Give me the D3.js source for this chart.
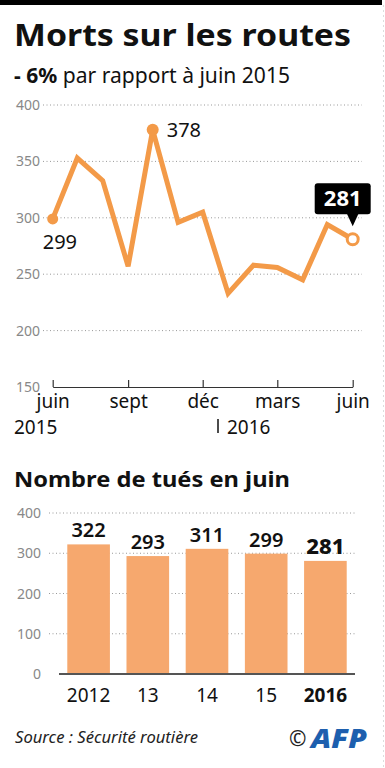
<!DOCTYPE html>
<html>
<head>
<meta charset="utf-8">
<script src="https://cdn.jsdelivr.net/npm/d3@7"></script>
<style>
  body { margin: 0; background: #fff; }
  svg { display: block; font-family: "Noto Sans", sans-serif; }
</style>
</head>
<body>
<div id="chart"></div>
<script>
// monthly road deaths, juin 2015 -> juin 2016
var months = ["2015-06", "2015-07", "2015-08", "2015-09", "2015-10", "2015-11", "2015-12",
              "2016-01", "2016-02", "2016-03", "2016-04", "2016-05", "2016-06"];
var deaths = [299, 353, 333, 257, 378, 296, 305, 233, 258, 256, 245, 294, 281];
var lineTicks = [150, 200, 250, 300, 350, 400];
var monthLabels = ["juin", "sept", "déc", "mars", "juin"];

// june totals per year
var years = ["2012", "13", "14", "15", "2016"];
var juneDeaths = [322, 293, 311, 299, 281];
var barTicks = [0, 100, 200, 300, 400];

var orange = "#f39a48";
var barOrange = "#f6a86e";

var svgWidth = 385, svgHeight = 768;

var svg = d3.select("#chart").append("svg")
    .attr("width", svgWidth)
    .attr("height", svgHeight);

// top black band
svg.append("rect").attr("x", 0).attr("y", 0).attr("width", 382).attr("height", 5).attr("fill", "#000");
// faint right border
svg.append("line").attr("x1", 383.5).attr("x2", 383.5).attr("y1", 5).attr("y2", 768)
    .attr("stroke", "#ddd").attr("stroke-dasharray", "2,3");

// titles
svg.append("text").attr("x", 14).attr("y", 46)
    .attr("font-size", 31).attr("font-weight", 700).attr("fill", "#111")
    .attr("textLength", 337).attr("lengthAdjust", "spacingAndGlyphs")
    .text("Morts sur les routes");

var sub = svg.append("text").attr("x", 14).attr("y", 83).attr("font-size", 21).attr("fill", "#111")
    .attr("textLength", 276).attr("lengthAdjust", "spacingAndGlyphs");
sub.append("tspan").attr("font-weight", 700).text("- 6%");
sub.append("tspan").text(" par rapport à juin 2015");

// ---- line chart ----
var parse = d3.timeParse("%Y-%m");
var lineData = months.map(function(m, i) { return {date: parse(m), value: deaths[i]}; });

var xScale = d3.scaleTime()
    .domain([parse("2015-06"), parse("2016-06")])
    .range([52.7, 352.7]);

var yScale = d3.scaleLinear()
    .domain([150, 400])
    .range([387, 105]);

// grid
var grid = svg.append("g");
grid.selectAll("line").data(lineTicks.filter(function(d) { return d > 150; })).enter().append("line")
    .attr("x1", 43).attr("x2", 362)
    .attr("y1", function(d) { return yScale(d); })
    .attr("y2", function(d) { return yScale(d); })
    .attr("stroke", "#999").attr("stroke-width", 1).attr("stroke-dasharray", "1,2.5");

// y labels
svg.append("g").selectAll("text").data(lineTicks).enter().append("text")
    .attr("x", 40)
    .attr("y", function(d) { return yScale(d) + 5; })
    .attr("text-anchor", "end")
    .attr("font-size", 14).attr("fill", "#888")
    .text(function(d) { return d; });

// x axis
var tickDates = [parse("2015-06"), parse("2015-09"), parse("2015-12"), parse("2016-03"), parse("2016-06")];
var xAxis = d3.axisBottom(xScale)
    .tickValues(tickDates)
    .tickSizeInner(-7)
    .tickSizeOuter(0)
    .tickFormat(function(d, i) { return monthLabels[i]; });

var xg = svg.append("g")
    .attr("transform", "translate(0, 387)")
    .call(xAxis);
xg.select(".domain").attr("stroke", "#333").attr("stroke-width", 1.2);
xg.selectAll(".tick line").attr("stroke", "#333").attr("stroke-width", 1.2);
xg.selectAll(".tick text").attr("font-size", 19).attr("fill", "#111").attr("y", 8)
    .attr("font-family", "Noto Sans");

svg.append("text").attr("x", 14).attr("y", 434).attr("font-size", 19).attr("fill", "#111").text("2015");
svg.append("line").attr("x1", 218).attr("x2", 218).attr("y1", 419).attr("y2", 433)
    .attr("stroke", "#111").attr("stroke-width", 1.5);
svg.append("text").attr("x", 227).attr("y", 434).attr("font-size", 19).attr("fill", "#111").text("2016");

// line
var line = d3.line()
    .x(function(d) { return xScale(d.date); })
    .y(function(d) { return yScale(d.value); });

svg.append("path").datum(lineData)
    .attr("d", line)
    .attr("fill", "none")
    .attr("stroke", orange)
    .attr("stroke-width", 5)
    .attr("stroke-linejoin", "miter");

var first = lineData[0], peak = lineData[4], last = lineData[12];

svg.append("circle").attr("cx", xScale(first.date)).attr("cy", yScale(first.value)).attr("r", 5.5).attr("fill", orange);
svg.append("circle").attr("cx", xScale(peak.date)).attr("cy", yScale(peak.value)).attr("r", 6).attr("fill", orange);
svg.append("circle").attr("cx", xScale(last.date)).attr("cy", yScale(last.value)).attr("r", 5.5)
    .attr("fill", "#fff").attr("stroke", orange).attr("stroke-width", 3);

svg.append("text").attr("x", xScale(first.date) - 10).attr("y", yScale(first.value) + 30)
    .attr("font-size", 20).attr("fill", "#111").text(first.value);
svg.append("text").attr("x", xScale(peak.date) + 14).attr("y", yScale(peak.value) + 7)
    .attr("font-size", 20).attr("fill", "#111").text(peak.value);

// callout for last value
var lx = xScale(last.date), ly = yScale(last.value);
var callout = svg.append("g");
callout.append("rect")
    .attr("x", lx - 38).attr("y", ly - 56)
    .attr("width", 56).attr("height", 31).attr("rx", 3)
    .attr("fill", "#000");
callout.append("path")
    .attr("d", "M" + (lx - 6) + "," + (ly - 26) + " L" + lx + "," + (ly - 13) + " L" + (lx + 6) + "," + (ly - 26) + "Z")
    .attr("fill", "#000");
callout.append("text")
    .attr("x", lx - 10).attr("y", ly - 33)
    .attr("text-anchor", "middle")
    .attr("font-size", 22).attr("font-weight", 700).attr("fill", "#fff")
    .text(last.value);

// ---- bar chart ----
svg.append("text").attr("x", 14).attr("y", 487)
    .attr("font-size", 21).attr("font-weight", 700).attr("fill", "#111")
    .attr("textLength", 276).attr("lengthAdjust", "spacingAndGlyphs")
    .text("Nombre de tués en juin");

var bx = d3.scaleBand()
    .domain(years)
    .range([59, 355])
    .paddingInner(0.28)
    .paddingOuter(0.14);

var by = d3.scaleLinear()
    .domain([0, 400])
    .range([674, 513]);

svg.append("g").selectAll("line").data(barTicks.filter(function(d) { return d > 0; })).enter().append("line")
    .attr("x1", 49).attr("x2", 355)
    .attr("y1", function(d) { return by(d); })
    .attr("y2", function(d) { return by(d); })
    .attr("stroke", "#999").attr("stroke-width", 1).attr("stroke-dasharray", "1,2.5");

svg.append("g").selectAll("text").data(barTicks).enter().append("text")
    .attr("x", 41)
    .attr("y", function(d) { return by(d) + 5; })
    .attr("text-anchor", "end")
    .attr("font-size", 14).attr("fill", "#888")
    .text(function(d) { return d; });

svg.append("g").selectAll("rect").data(years).enter().append("rect")
    .attr("x", function(d) { return bx(d); })
    .attr("y", function(d, i) { return by(juneDeaths[i]); })
    .attr("width", bx.bandwidth())
    .attr("height", function(d, i) { return by(0) - by(juneDeaths[i]); })
    .attr("fill", barOrange);

svg.append("line").attr("x1", 59).attr("x2", 355).attr("y1", 674).attr("y2", 674)
    .attr("stroke", "#555").attr("stroke-width", 2);

svg.append("g").selectAll("text").data(years).enter().append("text")
    .attr("x", function(d) { return bx(d) + bx.bandwidth() / 2; })
    .attr("y", function(d, i) { return by(juneDeaths[i]) - 7; })
    .attr("text-anchor", "middle")
    .attr("font-size", function(d, i) { return i === 4 ? 22 : 20; })
    .attr("font-weight", function(d, i) { return i === 4 ? 800 : 600; })
    .attr("fill", "#111")
    .text(function(d, i) { return juneDeaths[i]; });

svg.append("g").selectAll("text").data(years).enter().append("text")
    .attr("x", function(d) { return bx(d) + bx.bandwidth() / 2; })
    .attr("y", 702)
    .attr("text-anchor", "middle")
    .attr("font-size", 19)
    .attr("font-weight", function(d, i) { return i === 4 ? 700 : 400; })
    .attr("fill", "#111")
    .text(function(d) { return d; });

// footer
svg.append("text").attr("x", 15).attr("y", 743)
    .attr("font-size", 16).attr("font-style", "italic").attr("fill", "#222")
    .attr("textLength", 183).attr("lengthAdjust", "spacingAndGlyphs")
    .text("Source : Sécurité routière");
svg.append("text").attr("x", 289).attr("y", 746)
    .attr("font-size", 21).attr("fill", "#222").text("©");
svg.append("text").attr("x", 311).attr("y", 748)
    .attr("font-size", 27).attr("font-weight", 900).attr("font-style", "italic")
    .attr("fill", "#1d5fae")
    .attr("textLength", 56).attr("lengthAdjust", "spacingAndGlyphs")
    .text("AFP");
</script>
</body>
</html>
